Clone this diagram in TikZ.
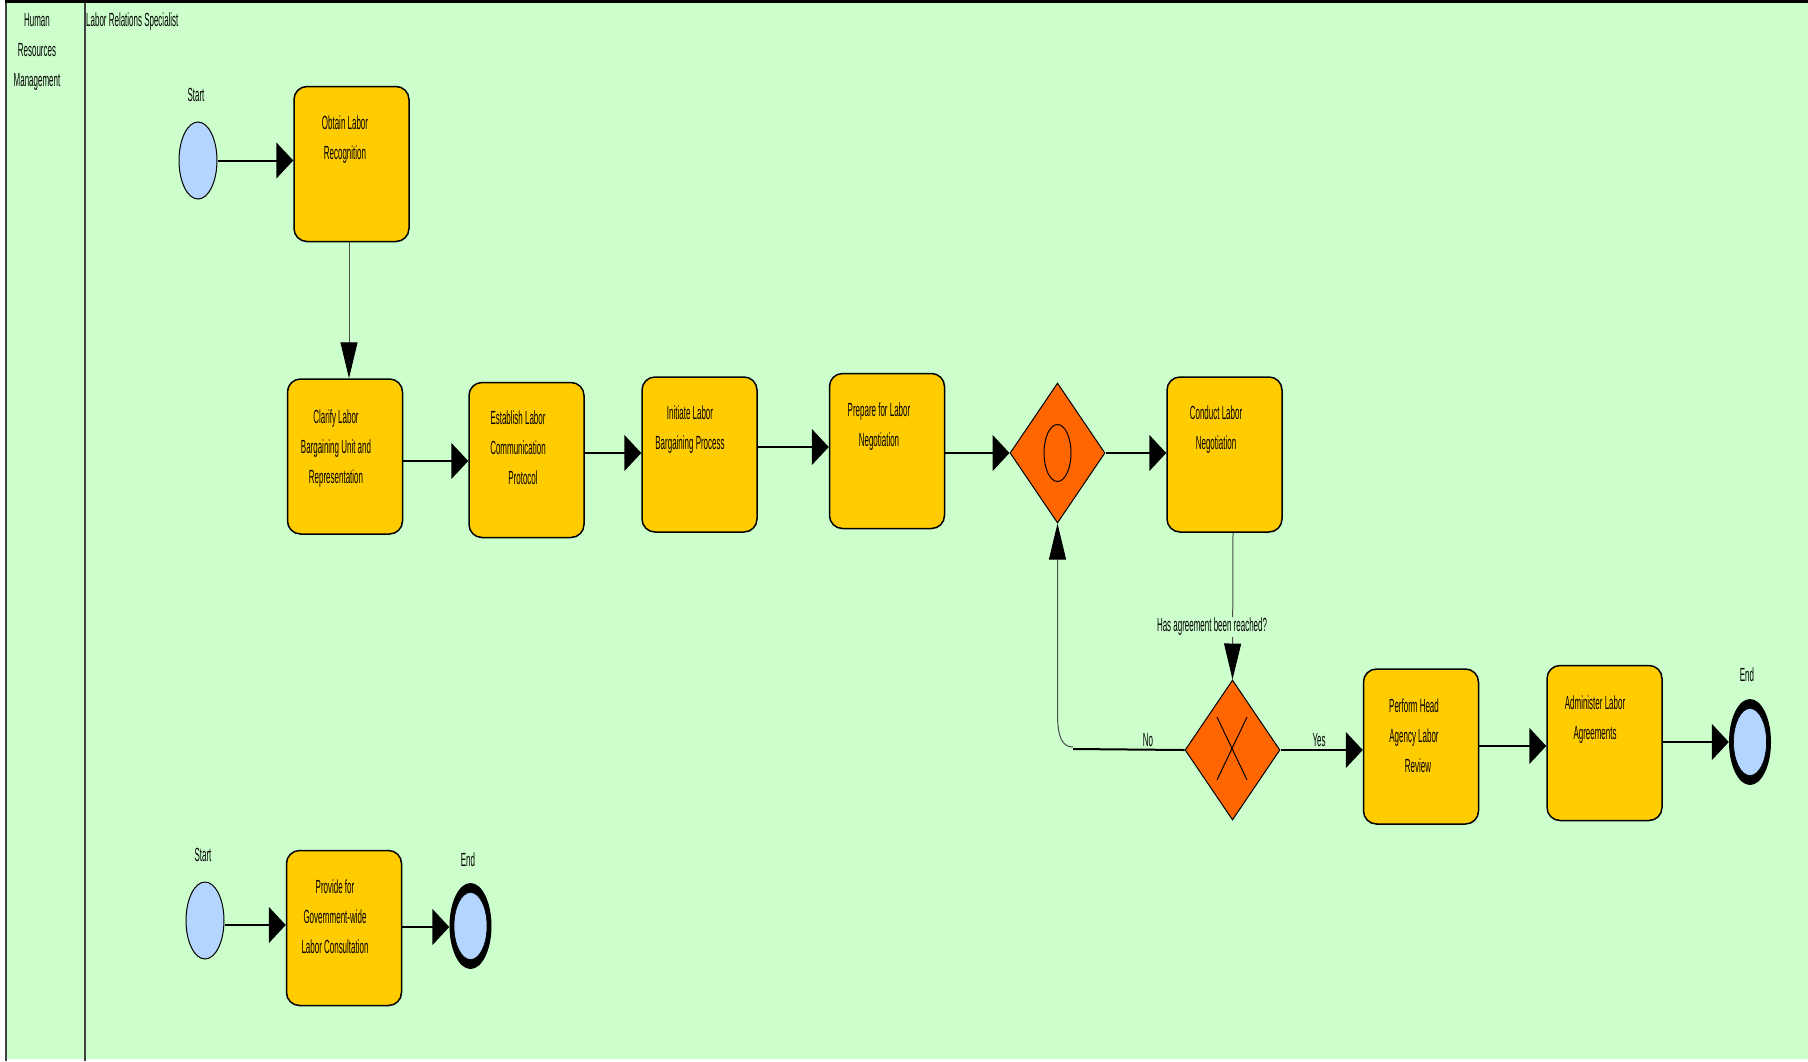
\documentclass[tikz,border=0pt]{standalone}
\usepackage{fontspec}
\setmainfont{Liberation Sans}[FakeStretch=0.42]
\usetikzlibrary{arrows.meta,shapes.geometric}
\definecolor{lanebg}{HTML}{CCFFCC}
\definecolor{taskfill}{HTML}{FFCC00}
\definecolor{gatefill}{HTML}{FF6600}
\definecolor{evtfill}{HTML}{B4D5FF}
\definecolor{lanegray}{HTML}{404040}
\begin{document}
\begin{tikzpicture}[x=1pt,y=-1pt,
  task/.style={draw=black,line width=1.5pt,fill=taskfill,rounded corners=13pt,minimum width=115pt,minimum height=155pt,inner sep=0pt},
  gate/.style={diamond,draw=black,line width=1pt,fill=gatefill,minimum width=95pt,minimum height=140pt,inner sep=0pt},
  startev/.style={ellipse,draw=black,line width=1pt,fill=evtfill,minimum width=38pt,minimum height=77pt,inner sep=0pt},
  endev/.style={ellipse,fill=black,minimum width=42pt,minimum height=86pt,inner sep=0pt},
  txt/.style={inner sep=0pt,anchor=north,align=center,font=\fontsize{19}{30}\selectfont},
  lbl/.style={inner sep=0pt,font=\fontsize{19}{30}\selectfont},
  fh/.style={line width=2pt,-{Triangle[length=17pt,width=36pt]}},
  fv/.style={line width=1pt,draw=black!70,-{Triangle[length=36pt,width=17pt,color=black]}}]
\useasboundingbox (0,0) rectangle (1808,1061);
% lane
\fill[lanebg] (6,2) rectangle (1808,1059);
\draw[lanegray,line width=1.3pt] (6,2) -- (6,1061);
\draw[lanegray,line width=1.3pt] (85,2) -- (85,1061);
\draw[line width=3pt] (4.5,1.5) -- (1808,1.5);
\node[txt] (pool) at (37,5.5) {\strut Human\\Resources\\Management};
\node[txt,anchor=north west,align=left] (lane) at (86,5.5) {\strut Labor Relations Specialist};
% events
\node[startev] (start1) at (198,160.5) {};
\node[startev] (start2) at (205,920.5) {};
\node[endev] (end1) at (1750,742) {};
\draw[fill=evtfill,line width=0.6pt] (end1.center) ellipse [x radius=16.5pt,y radius=33.5pt];
\node[endev] (end2) at (470.5,926) {};
\draw[fill=evtfill,line width=0.6pt] (end2.center) ellipse [x radius=16.5pt,y radius=33.5pt];
\node[txt] (lstart1) at (196,80.5) {\strut Start};
\node[txt] (lstart2) at (203,840.5) {\strut Start};
\node[txt] (lend1) at (1747,660.5) {\strut End};
\node[txt] (lend2) at (468,845.5) {\strut End};
% tasks
\node[task] (obtain) at (351.5,164) {};
\node[task] (clarify) at (345,456.5) {};
\node[task] (establish) at (526.5,460) {};
\node[task] (initiate) at (699.5,454.5) {};
\node[task] (prepare) at (887,451) {};
\node[task] (conduct) at (1224.5,454.5) {};
\node[task] (perform) at (1421,746.5) {};
\node[task] (administer) at (1604.5,743) {};
\node[task] (provide) at (344,928) {};
\node[txt] (tobtain) at (345,108.5) {\strut Obtain Labor\\Recognition};
\node[txt] (tclarify) at (336,402.5) {\strut Clarify Labor\\Bargaining Unit and\\Representation};
\node[txt] (testablish) at (518,403.5) {\strut Establish Labor\\Communication\\\hspace{10pt}Protocol};
\node[txt] (tinitiate) at (690,398.5) {\strut Initiate Labor\\Bargaining Process};
\node[txt] (tprepare) at (879,395.5) {\strut Prepare for Labor\\Negotiation};
\node[txt] (tconduct) at (1216,398.5) {\strut Conduct Labor\\Negotiation};
\node[txt] (tperform) at (1414,691.5) {\strut Perform Head\\Agency Labor\\\hspace{8pt}Review};
\node[txt] (tadminister) at (1595,688.5) {\strut Administer Labor\\Agreements};
\node[txt] (tprovide) at (335,872.5) {\strut Provide for\\Government-wide\\Labor Consultation};
% gateways
\node[gate] (g1) at (1057.5,453) {};
\draw[line width=1pt] (g1.center) ellipse [x radius=13.5pt,y radius=28.5pt];
\node[gate] (g2) at (1232.5,750) {};
\draw[line width=1pt] (1217,717) -- (1247,780) (1247,717) -- (1217,780);
% flows
\draw[fh] (start1.east) -- (obtain.west |- start1.east);
\draw[fv] (349,0 |- obtain.south) -- (349,0 |- clarify.north);
\draw[fh] (clarify.east |- 0,461) -- (establish.west |- 0,461);
\draw[fh] (establish.east |- 0,453) -- (initiate.west |- 0,453);
\draw[fh] (initiate.east |- 0,447) -- (prepare.west |- 0,447);
\draw[fh] (prepare.east |- g1.west) -- (g1.west);
\draw[fh] (g1.east) -- (conduct.west |- g1.east);
\draw[fv] (1233,0 |- conduct.south) -- (g2.north);
\node[lbl,fill=lanebg,inner sep=1pt] (lagree) at (1212,627) {Has agreement been reached?};
\draw[fh] (g2.east) -- (perform.west |- g2.east);
\node[lbl] (lyes) at (1319,740) {Yes};
\coordinate (nobend) at (1073,749);
\coordinate (nocurve) at (1073,747);
\draw[line width=2pt] (g2.west) -- (nobend);
\draw[fv] (nocurve) .. controls (1062,747) and (1057.5,737) .. (1057.5,713) -- (g1.south);
\node[lbl] (lno) at (1148,740) {No};
\draw[fh] (perform.east |- 0,746) -- (administer.west |- 0,746);
\draw[fh] (administer.east |- end1.west) -- (end1.west);
\draw[fh] (start2.east |- 0,925) -- (provide.west |- 0,925);
\draw[fh] (provide.east |- 0,927) -- (end2.west |- 0,927);
\end{tikzpicture}
\end{document}
